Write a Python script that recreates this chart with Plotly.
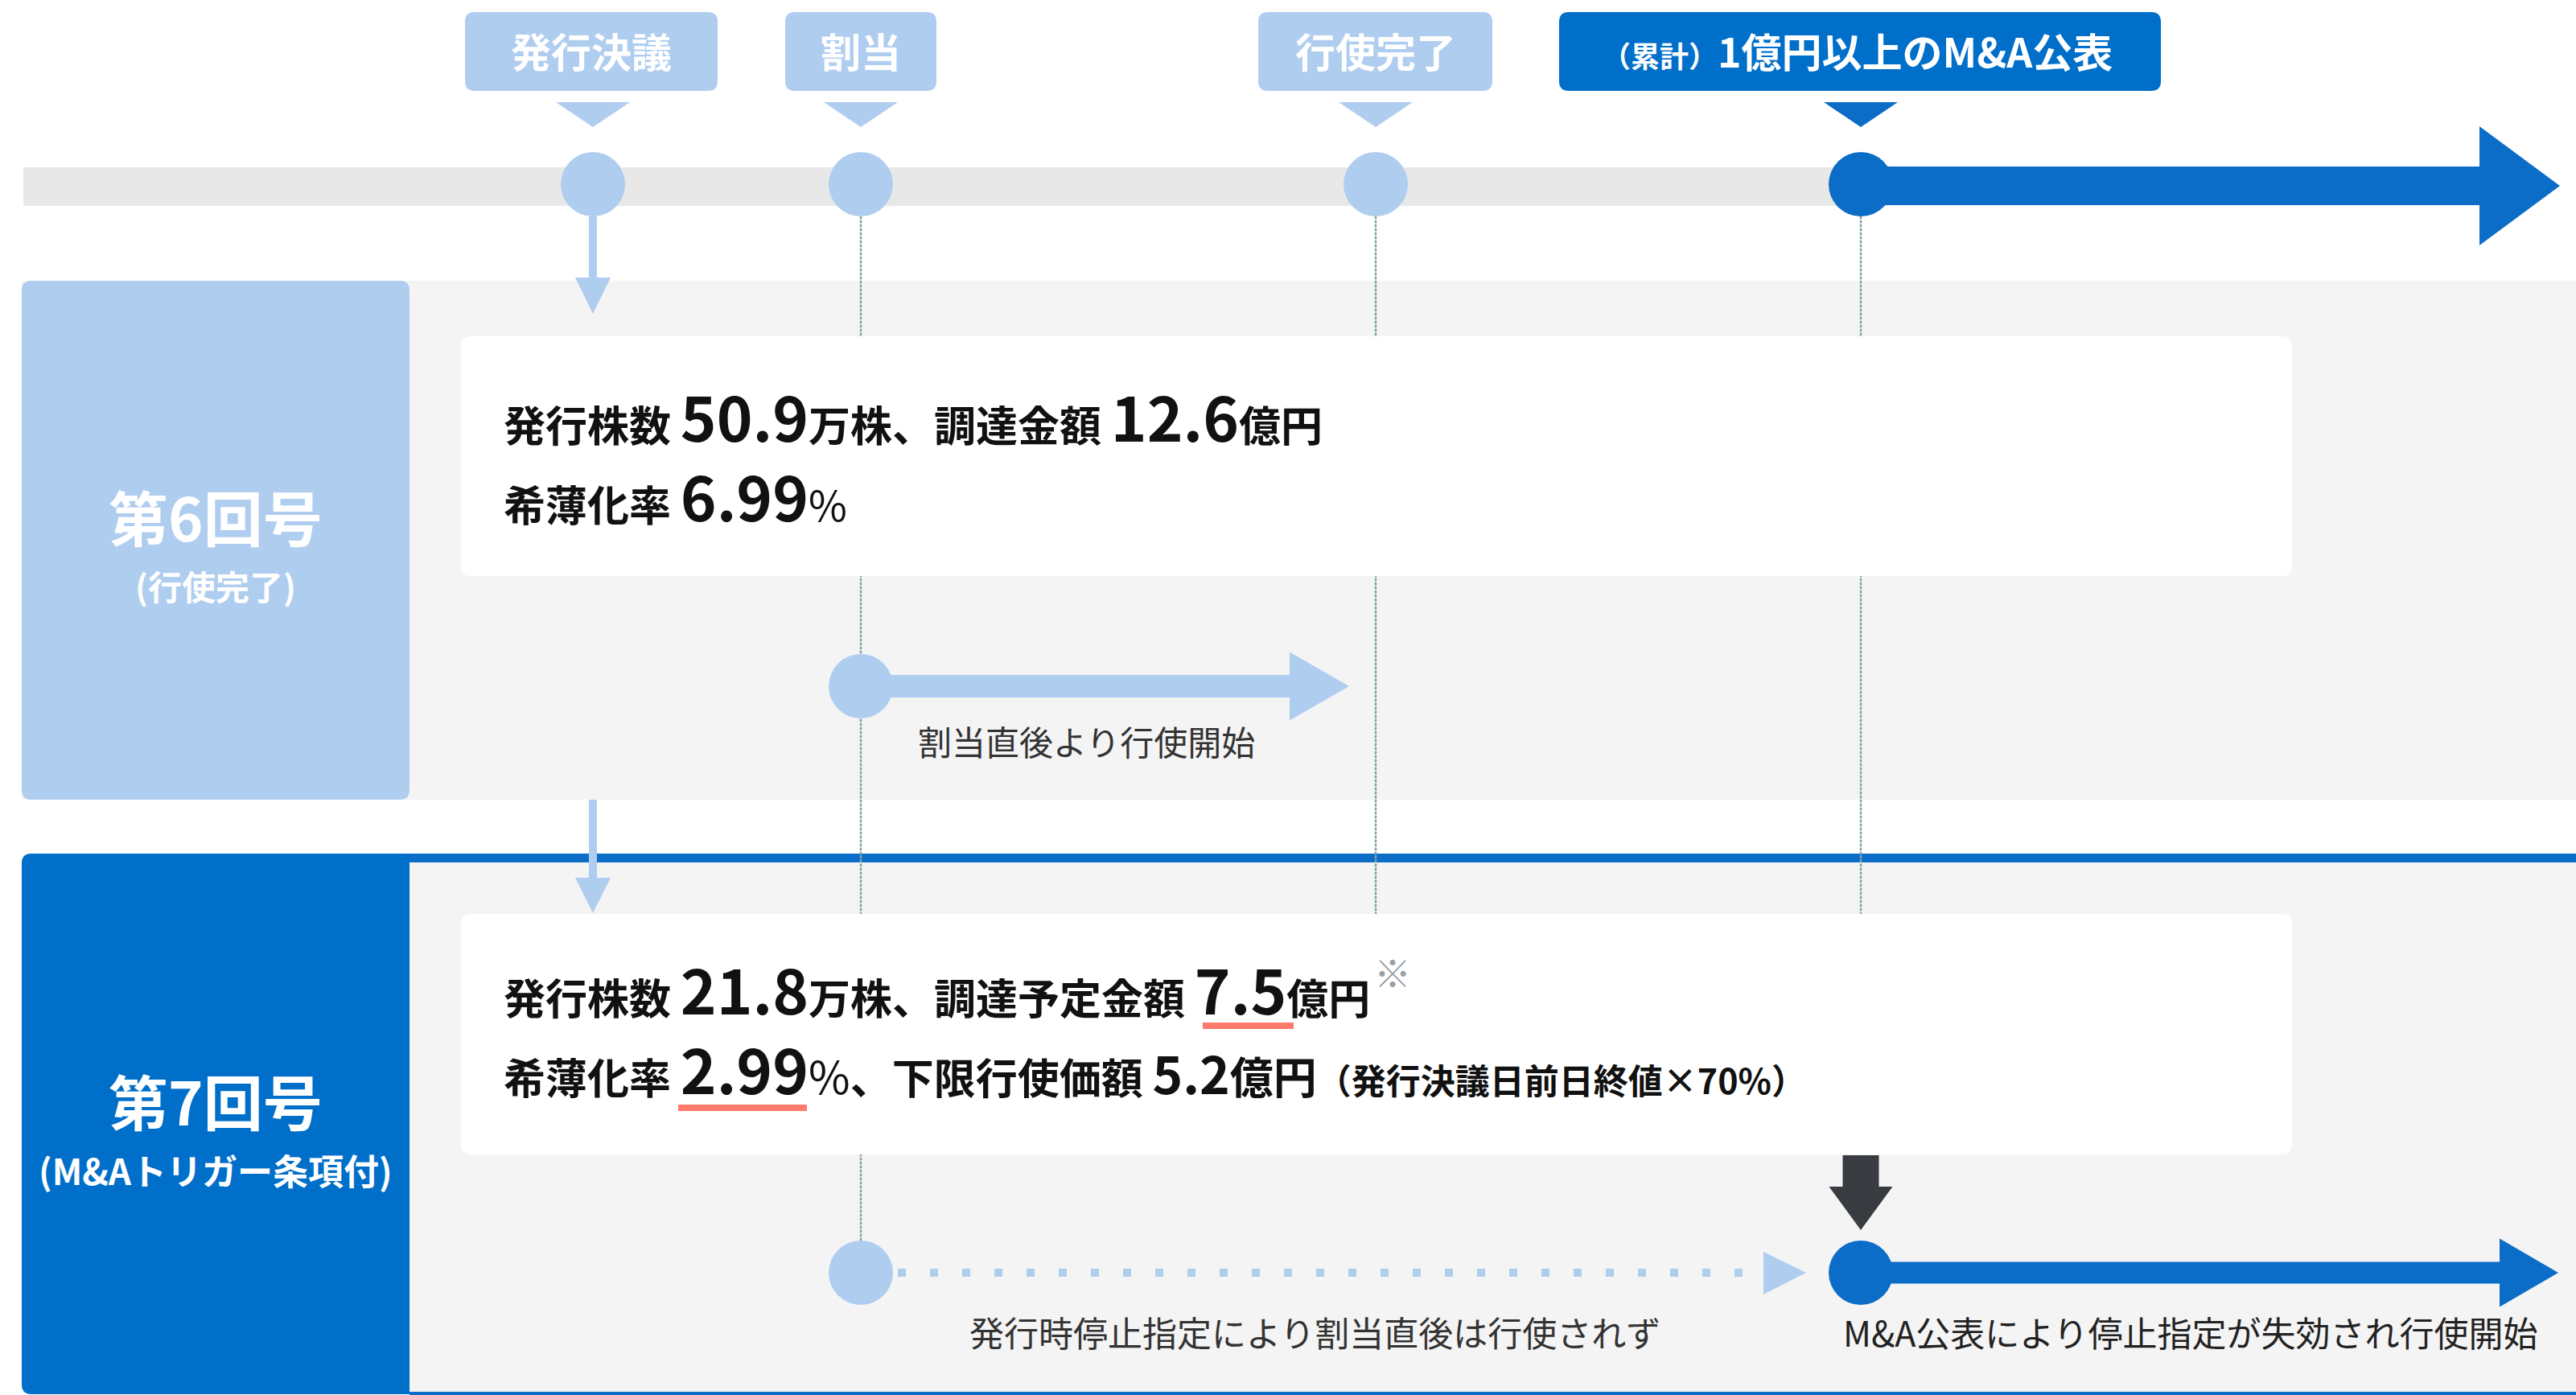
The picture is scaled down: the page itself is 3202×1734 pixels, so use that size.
import plotly.graph_objects as go

W, H = 3202, 1734

# ---------------- data ----------------
event_labels = ["発行決議", "割当", "行使完了", "1億円以上のM&A公表"]
event_prefix = ["", "", "", "（累計）"]
series_names = ["第6回号", "第7回号"]
series_status = ["(行使完了)", "(M&Aトリガー条項付)"]
shares_man = [50.9, 21.8]          # 発行株数（万株）
amount_oku = [12.6, 7.5]           # 調達金額（億円）
dilution_pct = [6.99, 2.99]        # 希薄化率（%）
floor_price_oku = [None, 5.2]      # 下限行使価額（億円）
floor_ratio_pct = 70               # 発行決議日前日終値×70%
notes6 = ["割当直後より行使開始"]
notes7 = ["発行時停止指定により割当直後は行使されず", "M&A公表により停止指定が失効され行使開始"]

# ---------------- layout constants ----------------
EV_X = [737, 1070, 1710, 2313]
LABEL_BOX = [(578, 892), (976, 1164), (1564, 1855), (1938, 2686)]
TL_Y = 231
LB = "#afcdef"
DB = "#0b6dc8"
BOXB = "#006fca"
GRAY_BG = "#f4f4f4"
BAND = "#e8e8e8"
DARK = "#383b3f"
RED = "#ff7a6c"
FONT = "Noto Sans CJK JP, Noto Sans, sans-serif"

shapes = []
annotations = []


def rrect(x0, y0, x1, y1, r, color, corners=(True, True, True, True)):
    tl, tr, br, bl = [r if c else 0 for c in corners]
    p = f"M{x0 + tl},{y0} L{x1 - tr},{y0} "
    p += f"Q{x1},{y0} {x1},{y0 + tr} " if tr else ""
    p += f"L{x1},{y1 - br} "
    p += f"Q{x1},{y1} {x1 - br},{y1} " if br else ""
    p += f"L{x0 + bl},{y1} "
    p += f"Q{x0},{y1} {x0},{y1 - bl} " if bl else ""
    p += f"L{x0},{y0 + tl} "
    p += f"Q{x0},{y0} {x0 + tl},{y0} " if tl else ""
    p += "Z"
    shapes.append(dict(type="path", path=p, fillcolor=color, line=dict(width=0), xref="x", yref="y"))


def rect(x0, y0, x1, y1, color):
    shapes.append(dict(type="rect", x0=x0, x1=x1, y0=y0, y1=y1, fillcolor=color,
                       line=dict(width=0), xref="x", yref="y"))


def poly(pts, color):
    p = "M" + " L".join(f"{x},{y}" for x, y in pts) + " Z"
    shapes.append(dict(type="path", path=p, fillcolor=color, line=dict(width=0), xref="x", yref="y"))


def circle(cx, cy, r, color):
    shapes.append(dict(type="circle", x0=cx - r, x1=cx + r, y0=cy - r, y1=cy + r,
                       fillcolor=color, line=dict(width=0), xref="x", yref="y"))


def hline(x0, x1, y, color, width, dash="solid"):
    shapes.append(dict(type="line", x0=x0, x1=x1, y0=y, y1=y, xref="x", yref="y",
                       line=dict(color=color, width=width, dash=dash)))


def vline(x, y0, y1, color, width, dash="solid"):
    shapes.append(dict(type="line", x0=x, x1=x, y0=y0, y1=y1, xref="x", yref="y",
                       line=dict(color=color, width=width, dash=dash)))


def harrow(xs, xh, xt, yc, sh, hh, color):
    poly([(xs, yc - sh / 2), (xh, yc - sh / 2), (xh, yc - hh / 2), (xt, yc),
          (xh, yc + hh / 2), (xh, yc + sh / 2), (xs, yc + sh / 2)], color)


def varrow(x, ys, yh, yt, sw, hw, color):
    poly([(x - sw / 2, ys), (x + sw / 2, ys), (x + sw / 2, yh), (x + hw / 2, yh), (x, yt),
          (x - hw / 2, yh), (x - sw / 2, yh)], color)


def ann(x, y, text, size, color, xanchor="center", yanchor="middle", weight=400):
    annotations.append(dict(x=x, y=y, xref="x", yref="y", text=text, showarrow=False,
                            xanchor=xanchor, yanchor=yanchor, align="left",
                            font=dict(family=FONT, size=size, color=color, weight=weight)))


def sz(v, size=52, extra=""):
    return f"<span style='font-size:{size}px{extra}'>{v}</span>"


# ---------------- backgrounds ----------------
rect(29, 208, EV_X[3], 256, BAND)                        # timeline band
rect(27, 349, W, 994, GRAY_BG)                           # section 6 background
rect(509, 1061, W, H, DB)                                # section 7 outline
rect(509, 1072, W, 1730, GRAY_BG)                        # section 7 background

# dashed guide lines
for x, yend in [(EV_X[1], 1542), (EV_X[2], 1136), (EV_X[3], 1136)]:
    vline(x, 269, yend, "#3fe0d0", 1)
    vline(x, 269, yend, "#9a9a9a", 2.5, dash="3px,2px")

# section boxes
rrect(27, 349, 509, 994, 12, LB)
rrect(27, 1061, 509, H - 1, 12, BOXB, corners=(True, False, False, True))

# cards
rrect(573, 418, 2849, 716, 12, "white")
rrect(573, 1136, 2849, 1435, 12, "white")

# ---------------- timeline ----------------
harrow(EV_X[3], 3082, 3182, TL_Y, 48, 148, DB)
for i, x in enumerate(EV_X):
    col = DB if i == 3 else LB
    circle(x, TL_Y - 2, 40, col)
    poly([(x - 46, 127), (x + 46, 127), (x, 158)], col)
    bx0, bx1 = LABEL_BOX[i]
    rrect(bx0, 15, bx1, 113, 12, BOXB if i == 3 else LB)
    if event_prefix[i]:
        txt = f"<span style='font-size:36px'>{event_prefix[i]}</span>{event_labels[i]}"
    else:
        txt = event_labels[i]
    ann((bx0 + bx1) / 2 - (4 if event_prefix[i] else 0), 62, txt, 50, "white", weight=700)

# vertical arrows from 発行決議
varrow(EV_X[0], 269, 345, 390, 10, 44, LB)
varrow(EV_X[0], 994, 1091, 1135, 10, 44, LB)

# section 6 arrow
harrow(EV_X[1], 1603, 1677, 853, 28, 85, LB)
circle(EV_X[1], 853, 40, LB)

# section 7 arrows
hline(1116, 2168, 1582, LB, 10, dash="10px,30px")
poly([(2192, 1556), (2245, 1582), (2192, 1609)], LB)
circle(EV_X[1], 1582, 40, LB)
harrow(EV_X[3], 3107, 3180, 1582, 27, 85, DB)
circle(EV_X[3], 1582, 40, DB)
varrow(EV_X[3], 1436, 1475, 1529, 45, 79, DARK)

# red underlines
rect(1495, 1271, 1608, 1279, RED)
rect(843, 1373, 1003, 1381, RED)

# ---------------- text ----------------
# section labels
ann(268, 640, series_names[0], 74, "white", weight=700)
ann(268, 727, series_status[0], 42, "white", weight=700)
ann(268, 1366, series_names[1], 74, "white", weight=700)
ann(268, 1454, series_status[1], 44, "white", weight=700)

pct = "<span style='font-size:52px;font-weight:400'>%</span>"
pct7 = "<span style='font-size:56px;font-weight:400'>%</span>"
# card 6 (base size = big numbers so that line spacing matches)
card6 = (sz("発行株数 ") + f"{shares_man[0]}" + sz("万株、調達金額 ") + f"{amount_oku[0]}" + sz("億円")
         + "<br>" + sz("希薄化率 ") + f"{dilution_pct[0]}" + pct)
ann(624, 565, card6, 76, "#111111", xanchor="left", weight=700)

# card 7
card7 = (sz("発行株数 ") + f"{shares_man[1]}" + sz("万株、調達予定金額 ") + f"{amount_oku[1]}" + sz("億円")
         + "<br>" + sz("希薄化率 ") + f"{dilution_pct[1]}" + pct7 + sz("、下限行使価額 ")
         + sz(floor_price_oku[1], 64) + sz("億円", 54)
         + sz(f"（発行決議日前日終値×{floor_ratio_pct}%）", 43))
ann(624, 1277, card7, 76, "#111111", xanchor="left", weight=700)
ann(1731, 1207, "※", 46, "#9aa0a6", weight=400)

# notes
ann(1350, 920, notes6[0], 42, "#333333")
ann(1634, 1655, notes7[0], 43, "#333333")
ann(2722, 1655, notes7[1], 43, "#222222")

fig = go.Figure()
fig.update_layout(
    width=W, height=H, autosize=False,
    margin=dict(l=0, r=0, t=0, b=0, pad=0),
    paper_bgcolor="white", plot_bgcolor="white",
    xaxis=dict(range=[0, W], visible=False, fixedrange=True),
    yaxis=dict(range=[H, 0], visible=False, fixedrange=True),
    shapes=shapes, annotations=annotations, showlegend=False,
)
fig.write_html("out.html", config={"displayModeBar": False},
               post_script="document.body.style.margin='0';")
